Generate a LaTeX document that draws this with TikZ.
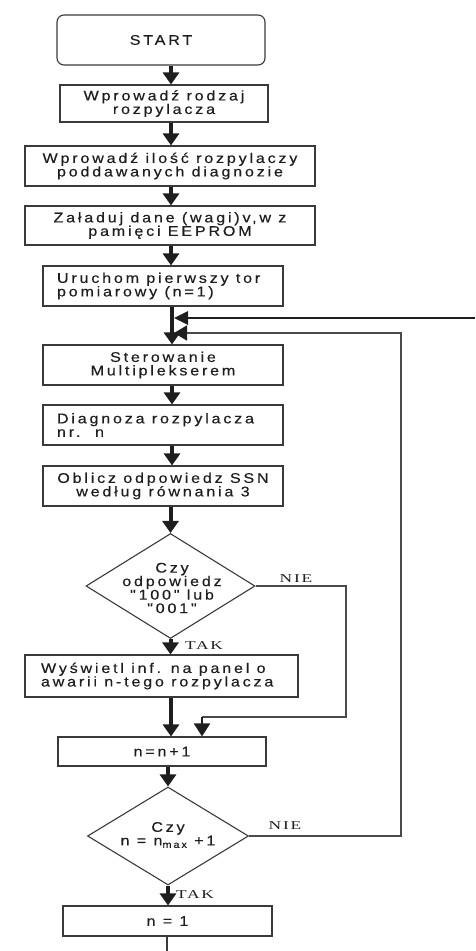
\documentclass[tikz,border=0pt]{standalone}
\usepackage{fontspec}
\usetikzlibrary{arrows.meta,shapes.geometric}
\newfontfamily\boxfont[FakeStretch=1.15, LetterSpace=20, FakeBold=0.4]{Liberation Sans}
\newfontfamily\lblfont[FakeStretch=1.45, LetterSpace=15]{Liberation Serif}
\definecolor{ink}{HTML}{1E1E1E}
\definecolor{edgec}{HTML}{3A3A3A}
\definecolor{thinc}{HTML}{4A4A4A}
\newcommand{\myleftrow}[2]{\makebox[#1][l]{#2}}
\begin{document}
\begin{tikzpicture}[x=1pt,y=1pt,
  box/.style={draw=edgec, line width=1.1pt, rectangle, inner sep=0pt, align=center, text=ink,
              font=\boxfont\fontsize{14}{13.5}\selectfont},
  dia/.style={draw=edgec, line width=1.1pt, diamond, inner sep=0pt},
  dtext/.style={align=center, text=ink, inner sep=0pt, font=\boxfont\fontsize{14}{13.5}\selectfont},
  lbl/.style={text=ink, inner sep=0pt, font=\lblfont\fontsize{12}{12}\selectfont},
  arr/.style={draw=ink, line width=4pt, -{Triangle[width=16pt,length=12pt]}},
  loopline/.style={draw=thinc, line width=1.6pt, -{Triangle[width=15pt,length=13pt,color=ink]}},
  topline/.style={draw=ink, line width=2.6pt, -{Triangle[width=13pt,length=14pt]}},
  endline/.style={draw=edgec, line width=1.3pt}
]
\useasboundingbox (0,0) rectangle (475,-951);

% nodes
\node[box, rounded corners=7pt, minimum width=208pt, minimum height=50pt] (start) at (161,-40) {START};
\node[box, minimum width=208pt, minimum height=37pt] (b2) at (164,-103.5) {Wprowadź rodzaj\\rozpylacza};
\node[box, minimum width=290pt, minimum height=40pt] (b3) at (170,-166) {Wprowadź ilość rozpylaczy\\poddawanych diagnozie};
\node[box, minimum width=290pt, minimum height=39pt] (b4) at (170,-225.5) {Załaduj dane (wagi)v,w z\\pamięci EEPROM};
\node[box, minimum width=240pt, minimum height=40pt] (b5) at (163,-286)
  {\myleftrow{212pt}{Uruchom pierwszy tor}\\\myleftrow{212pt}{pomiarowy (n=1)}};
\node[box, minimum width=240pt, minimum height=40pt] (b6) at (163,-365) {Sterowanie\\Multiplekserem};
\node[box, minimum width=240pt, minimum height=40pt] (b7) at (163,-425)
  {\myleftrow{212pt}{Diagnoza rozpylacza}\\\myleftrow{212pt}{nr.\ \ n}};
\node[box, minimum width=240pt, minimum height=40pt] (b8) at (163,-486) {Oblicz odpowiedz SSN\\według równania 3};
\node[dia, minimum width=169pt, minimum height=105pt] (d1) at (170.5,-586) {};
\node[dtext] (d1t) at (172,-588) {Czy\\odpowiedz\\"100" lub\\"001"};
\node[box, minimum width=273pt, minimum height=42pt] (b9) at (161.5,-676)
  {\myleftrow{241pt}{Wyświetl inf. na panel o}\\\myleftrow{241pt}{awarii n-tego rozpylacza}};
\node[box, minimum width=208pt, minimum height=29pt] (b10) at (162,-751.5) {n=n+1};
\node[dia, minimum width=161pt, minimum height=98pt] (d2) at (168,-836) {};
\node[dtext] (d2t) at (168,-835) {Czy\\n = n\raisebox{-2.5pt}{\fontsize{9.5}{9.5}\selectfont max} +1};
\node[box, minimum width=209pt, minimum height=30pt] (b11) at (167.5,-921) {n = 1};

% labels
\node[lbl] (nie1) at (296,-579) {NIE};
\node[lbl] (tak1) at (204,-646) {TAK};
\node[lbl] (nie2) at (285,-826) {NIE};
\node[lbl] (tak2) at (195,-895) {TAK};

% helper coordinates
\coordinate (ax) at (171,0);
\coordinate (mx) at (172,0);
\coordinate (m1) at (174,-318);
\coordinate (m2) at (174,-333);
\coordinate (redge) at (475,-318);
\coordinate (r1) at (401,-333);
\coordinate (n1) at (346,-717);
\coordinate (n2) at (202,-717);
\coordinate (bot) at (167,-951);

% main flow
\draw[arr] (start.south -| ax) -- (b2.north -| ax);
\draw[arr] (b2.south -| ax) -- (b3.north -| ax);
\draw[arr] (b3.south -| ax) -- (b4.north -| ax);
\draw[arr] (b4.south -| ax) -- (b5.north -| ax);
\draw[arr] (b5.south -| mx) -- (b6.north -| mx);
\draw[arr] (b6.south -| mx) -- (b7.north -| mx);
\draw[arr] (b7.south -| mx) -- (b8.north -| mx);
\draw[arr] (b8.south -| d1.north) -- (d1.north);
\draw[arr] (d1.south) -- (b9.north -| d1.south);
\draw[arr] (b9.south -| ax) -- (b10.north -| ax);
\draw[arr] (b10.south -| d2.north) -- (d2.north);
\draw[arr] (d2.south) -- (b11.north -| d2.south);
\draw[endline] (b11.south -| bot) -- (bot);

% loops
\draw[topline] (redge) -- (m1);
\draw[loopline] (d2.east) -| (r1) -- (m2);
\draw[draw=thinc, line width=1.3pt] (d1.east) -| (n1) -- (n2);
\draw[draw=ink, line width=2pt, -{Triangle[width=16pt,length=13pt]}] (n2) -- (n2 |- b10.north);
\end{tikzpicture}
\end{document}
